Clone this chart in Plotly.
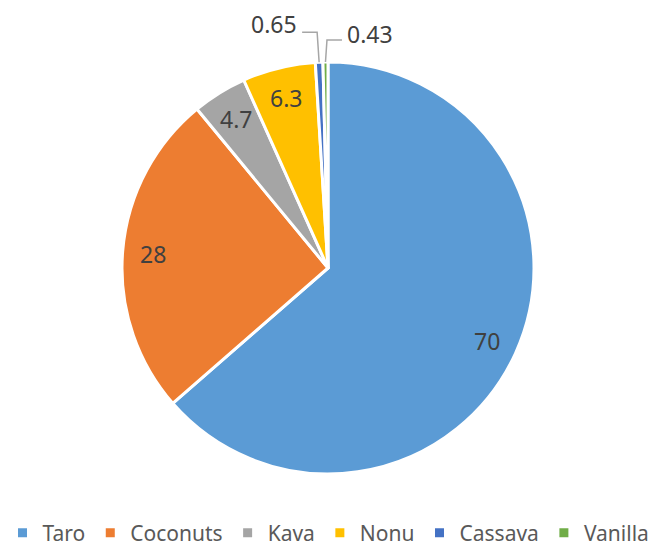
import math
import plotly.graph_objects as go

# Crop values
labels = ["Taro", "Coconuts", "Kava", "Nonu", "Cassava", "Vanilla"]
values = [70, 28, 4.7, 6.3, 0.65, 0.43]
colors = ["#5B9BD5", "#ED7D31", "#A5A5A5", "#FFC000", "#4472C4", "#70AD47"]

W, H = 661, 546
cx, cy, R = 328, 268, 206          # pie centre and radius in pixels
label_r = 0.85                      # radial position of inside labels
small = {"Cassava": "left", "Vanilla": "right"}  # labels moved outside the rim
text_color = "#404040"
line_color = "#A6A6A6"
font = "Noto Sans"


def px(x):
    return x / W


def py(y):
    return 1 - y / H


fig = go.Figure(go.Pie(
    labels=labels,
    values=values,
    sort=False,
    direction="clockwise",
    rotation=0,
    textinfo="none",
    marker=dict(colors=colors, line=dict(color="white", width=3)),
    domain=dict(x=[px(cx - R), px(cx + R)], y=[py(cy + R), py(cy - R)]),
    hovertemplate="%{label}: %{value}<extra></extra>",
))

total = sum(values)
cum = 0.0
annotations = []
shapes = []
for lab, v in zip(labels, values):
    a = 2 * math.pi * (cum + v / 2) / total
    cum += v
    txt = f"{v:g}"
    if lab not in small:
        x = cx + label_r * R * math.sin(a)
        y = cy - label_r * R * math.cos(a)
        annotations.append(dict(x=px(x), y=py(y), xref="paper", yref="paper",
                                text=txt, showarrow=False, xanchor="center", yanchor="middle",
                                font=dict(size=23, color=text_color, family=font)))
    else:
        rx = cx + R * math.sin(a)
        ry = cy - R * math.cos(a)
        if small[lab] == "left":
            ex, ey = rx - 2, ry - 30
            hx = ex - 15
            lx, ly, anchor = hx - 3, ey - 8, "right"
        else:
            ex, ey = rx + 1.5, ry - 22
            hx = ex + 15
            lx, ly, anchor = hx + 3, ey - 6, "left"
        shapes.append(dict(type="path", xref="paper", yref="paper",
                           path=f"M {px(rx)} {py(ry)} L {px(ex)} {py(ey)} L {px(hx)} {py(ey)}",
                           line=dict(color=line_color, width=1.5)))
        annotations.append(dict(x=px(lx), y=py(ly), xref="paper", yref="paper",
                                text=txt, showarrow=False, xanchor=anchor, yanchor="middle",
                                font=dict(size=23, color=text_color, family=font)))

fig.update_layout(
    width=W, height=H,
    margin=dict(l=0, r=0, t=0, b=0, autoexpand=False),
    paper_bgcolor="white",
    font=dict(family=font, color="#595959"),
    annotations=annotations,
    shapes=shapes,
    legend=dict(orientation="h", x=0.497, xanchor="center", y=py(533), yanchor="middle",
                font=dict(size=21, color="#595959", family=font),
                itemwidth=30, tracegroupgap=0),
)

fig.write_html("out.html")
